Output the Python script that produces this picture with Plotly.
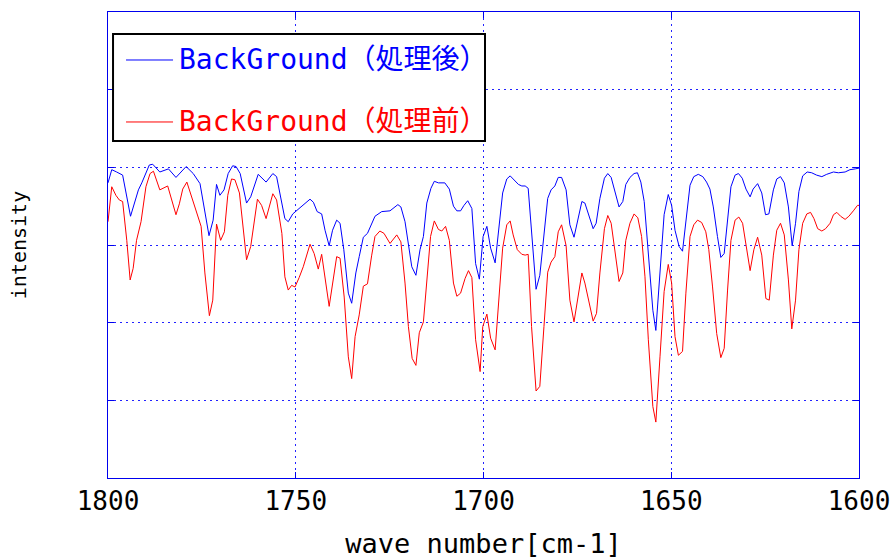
import plotly.graph_objects as go

# ---- data ----
wn_after = [1800.0, 1799.0, 1797.7, 1796.1, 1794.0, 1791.9, 1791.0, 1789.0, 1788.1, 1786.2,
            1783.9, 1781.9, 1779.2, 1777.3, 1775.5, 1773.1, 1772.0, 1771.1, 1770.2, 1769.1,
            1768.0, 1766.8, 1765.9, 1764.8, 1763.1, 1762.0, 1760.0, 1757.9, 1756.1, 1755.1,
            1752.9, 1752.0, 1750.8, 1749.1, 1748.0, 1746.2, 1745.3, 1744.3, 1743.1, 1742.2,
            1741.1, 1740.2, 1739.1, 1738.2, 1737.2, 1736.0, 1735.1, 1734.0, 1733.1, 1732.0,
            1730.9, 1728.9, 1727.1, 1724.9, 1722.8, 1722.0, 1720.9, 1720.0, 1719.1, 1718.0,
            1716.9, 1716.0, 1715.1, 1714.0, 1713.1, 1712.0, 1710.3, 1709.1, 1708.0, 1707.1,
            1706.1, 1705.2, 1704.2, 1703.1, 1702.1, 1701.1, 1700.1, 1699.1, 1698.1, 1696.9,
            1696.1, 1694.9, 1693.8, 1692.9, 1692.1, 1690.7, 1689.8, 1688.9, 1688.1, 1687.2,
            1686.0, 1685.0, 1683.9, 1682.9, 1682.0, 1681.0, 1680.1, 1679.2, 1678.0, 1677.0,
            1675.9, 1674.9, 1673.8, 1673.0, 1671.8, 1670.8, 1670.0, 1669.0, 1667.8, 1666.9,
            1666.0, 1665.0, 1663.9, 1662.9, 1662.1, 1661.0, 1659.9, 1659.0, 1658.1, 1657.2,
            1656.1, 1654.9, 1654.1, 1653.0, 1651.9, 1650.8, 1649.9, 1649.0, 1647.9, 1647.0,
            1646.1, 1645.0, 1644.0, 1642.8, 1641.6, 1640.6, 1639.7, 1638.8, 1637.7, 1636.8,
            1635.9, 1635.0, 1634.1, 1633.0, 1632.1, 1631.1, 1630.1, 1629.0, 1628.2, 1627.0,
            1625.9, 1624.9, 1624.0, 1622.8, 1621.9, 1620.9, 1619.9, 1618.8, 1617.8, 1616.9,
            1616.0, 1615.0, 1613.8, 1612.6, 1611.3, 1609.9, 1608.6, 1606.8, 1605.5, 1603.7,
            1602.4, 1601.0, 1600.0]
int_after = [3.80, 3.97, 3.94, 3.90, 3.37, 3.71, 3.80, 4.03, 4.04, 3.94,
             3.98, 3.87, 4.01, 3.92, 3.79, 3.12, 3.32, 3.78, 3.64, 3.71,
             3.92, 4.02, 4.01, 3.92, 3.54, 3.62, 3.91, 3.81, 3.92, 3.88,
             3.34, 3.30, 3.40, 3.47, 3.51, 3.59, 3.55, 3.43, 3.40, 3.19,
             2.99, 3.19, 3.32, 3.28, 2.94, 2.38, 2.25, 2.64, 2.85, 3.10,
             3.15, 3.37, 3.43, 3.44, 3.52, 3.49, 3.30, 3.02, 2.72, 2.61,
             2.94, 3.11, 3.54, 3.73, 3.82, 3.80, 3.80, 3.72, 3.50, 3.44,
             3.44, 3.51, 3.57, 3.47, 2.76, 2.56, 3.11, 3.24, 2.96, 2.77,
             3.13, 3.67, 3.85, 3.89, 3.85, 3.78, 3.76, 3.76, 3.73, 3.21,
             2.43, 2.61, 3.11, 3.60, 3.71, 3.76, 3.87, 3.87, 3.71, 3.26,
             3.10, 3.32, 3.56, 3.54, 3.36, 3.21, 3.28, 3.60, 3.86, 3.92,
             3.87, 3.69, 3.49, 3.56, 3.78, 3.87, 3.92, 3.93, 3.81, 3.56,
             2.94, 2.16, 1.90, 2.64, 3.39, 3.65, 3.51, 3.19, 2.98, 2.92,
             3.32, 3.77, 3.88, 3.91, 3.88, 3.81, 3.72, 3.49, 3.11, 2.84,
             2.89, 3.36, 3.75, 3.90, 3.92, 3.86, 3.72, 3.62, 3.72, 3.79,
             3.67, 3.39, 3.40, 3.71, 3.85, 3.88, 3.80, 3.49, 2.99, 3.28,
             3.69, 3.89, 3.94, 3.93, 3.90, 3.88, 3.91, 3.94, 3.93, 3.94,
             3.97, 3.98, 3.99]

wn_before = [1800.0, 1799.0, 1797.9, 1797.0, 1796.1, 1795.0, 1794.1, 1793.3, 1792.4, 1791.2,
             1789.9, 1788.8, 1787.9, 1786.2, 1784.1, 1781.9, 1781.0, 1780.1, 1779.0, 1777.7,
             1776.4, 1775.2, 1774.2, 1773.0, 1772.1, 1771.1, 1770.0, 1769.0, 1768.1, 1767.1,
             1766.2, 1765.0, 1763.1, 1762.0, 1760.2, 1759.1, 1757.9, 1756.1, 1755.1, 1753.7,
             1752.9, 1752.0, 1751.1, 1750.2, 1749.1, 1748.0, 1746.2, 1745.1, 1744.0, 1743.1,
             1741.1, 1740.0, 1739.1, 1738.2, 1737.1, 1736.0, 1735.1, 1734.2, 1733.1, 1732.0,
             1730.9, 1729.8, 1728.9, 1727.6, 1726.5, 1724.9, 1723.1, 1722.0, 1720.9, 1720.0,
             1719.0, 1718.0, 1717.1, 1716.0, 1715.1, 1714.1, 1713.1, 1712.0, 1711.1, 1710.1,
             1709.1, 1708.0, 1707.1, 1706.1, 1704.9, 1704.0, 1703.1, 1702.1, 1700.9, 1700.2,
             1699.1, 1698.1, 1696.9, 1696.1, 1694.9, 1693.8, 1692.9, 1692.1, 1691.0, 1689.8,
             1688.9, 1688.1, 1687.2, 1686.0, 1685.0, 1683.9, 1682.9, 1682.0, 1681.0, 1680.1,
             1679.2, 1678.0, 1677.0, 1675.9, 1674.9, 1673.8, 1673.0, 1671.8, 1670.8, 1669.9,
             1669.0, 1667.8, 1666.9, 1666.0, 1665.0, 1663.9, 1662.9, 1662.1, 1661.0, 1659.9,
             1658.9, 1657.9, 1657.0, 1656.1, 1654.9, 1654.1, 1653.0, 1651.9, 1650.8, 1649.9,
             1649.0, 1648.1, 1647.0, 1646.1, 1645.0, 1644.0, 1643.0, 1641.9, 1640.8, 1640.0,
             1639.0, 1637.9, 1636.8, 1635.9, 1635.0, 1634.1, 1633.0, 1632.0, 1631.0, 1629.9,
             1629.0, 1628.0, 1627.0, 1625.9, 1624.8, 1623.9, 1622.8, 1621.9, 1620.9, 1619.9,
             1618.8, 1617.9, 1616.9, 1616.0, 1615.0, 1613.9, 1612.9, 1612.0, 1611.0, 1609.9,
             1608.9, 1607.7, 1606.8, 1605.9, 1604.9, 1603.7, 1602.7, 1601.5, 1600.4, 1600.0]
int_before = [3.30, 3.75, 3.64, 3.58, 3.56, 3.06, 2.55, 2.70, 3.06, 3.30,
              3.75, 3.92, 3.95, 3.71, 3.76, 3.39, 3.53, 3.72, 3.81, 3.62,
              3.41, 3.24, 2.64, 2.09, 2.29, 3.27, 3.06, 3.17, 3.64, 3.85,
              3.84, 3.67, 2.81, 2.98, 3.59, 3.51, 3.34, 3.66, 3.58, 3.15,
              2.59, 2.42, 2.48, 2.46, 2.58, 2.72, 3.01, 2.89, 2.69, 2.88,
              2.21, 2.57, 2.85, 2.83, 2.33, 1.56, 1.28, 1.82, 2.10, 2.47,
              2.50, 2.86, 3.11, 3.18, 3.15, 3.02, 3.13, 3.04, 2.51, 1.95,
              1.54, 1.45, 1.87, 2.01, 2.55, 3.11, 3.31, 3.20, 3.18, 3.24,
              3.06, 2.51, 2.34, 2.38, 2.57, 2.67, 2.58, 1.78, 1.37, 1.95,
              2.11, 1.80, 1.65, 2.21, 2.96, 3.26, 3.31, 3.13, 2.94, 2.88,
              2.87, 2.88, 1.95, 1.12, 1.18, 1.95, 2.65, 2.78, 2.85, 3.17,
              3.26, 2.99, 2.29, 2.01, 2.33, 2.64, 2.51, 2.25, 2.02, 2.12,
              2.64, 3.21, 3.38, 3.28, 2.89, 2.53, 2.64, 3.06, 3.28, 3.40,
              3.35, 3.11, 2.59, 1.78, 0.92, 0.72, 1.56, 2.40, 2.75, 2.51,
              1.82, 1.58, 1.63, 2.38, 3.11, 3.26, 3.32, 3.29, 3.17, 2.94,
              2.46, 1.86, 1.55, 1.67, 2.42, 3.06, 3.32, 3.36, 3.28, 2.94,
              2.67, 2.94, 3.10, 2.87, 2.31, 2.29, 2.87, 3.19, 3.28, 3.13,
              2.55, 1.92, 2.29, 2.94, 3.28, 3.40, 3.42, 3.34, 3.21, 3.18,
              3.21, 3.28, 3.39, 3.42, 3.37, 3.33, 3.37, 3.44, 3.51, 3.51]

x_ticks = [1800, 1750, 1700, 1650, 1600]
series_names = ["BackGround（処理後）", "BackGround（処理前）"]
series_colors = ["#0000ff", "#ff0000"]

MONO = "DejaVu Sans Mono, Noto Sans CJK JP, sans-serif"
AXIS_BLUE = "#0000ee"
GRID_BLUE = "#2222ff"

fig = go.Figure()
fig.add_trace(go.Scatter(x=wn_after, y=int_after, mode="lines", name=series_names[0],
                         line=dict(color=series_colors[0], width=1)))
fig.add_trace(go.Scatter(x=wn_before, y=int_before, mode="lines", name=series_names[1],
                         line=dict(color=series_colors[1], width=1)))

# manual legend (box, sample lines, labels) in paper coordinates
fig.add_shape(type="rect", xref="paper", yref="paper", x0=0.0067, x1=0.502, y0=0.7232, y1=0.9528,
              line=dict(color="black", width=2), fillcolor="white", layer="above")
legend_rows = [0.897, 0.764]
for name, color, yy in zip(series_names, series_colors, legend_rows):
    fig.add_shape(type="line", xref="paper", yref="paper", x0=0.024, x1=0.0866, y0=yy, y1=yy,
                  line=dict(color=color, width=1), layer="above")
    fig.add_annotation(xref="paper", yref="paper", x=0.0925, y=yy, xanchor="left", yanchor="middle",
                       text=name, showarrow=False, font=dict(family=MONO, size=28, color=color))

fig.update_layout(
    width=892, height=559,
    margin=dict(l=108, r=33, t=12, b=81, autoexpand=False),
    paper_bgcolor="white", plot_bgcolor="white",
    showlegend=False,
    font=dict(family=MONO, color="black"),
)
fig.update_xaxes(
    automargin=False,
    range=[1800, 1600], tickvals=x_ticks, ticktext=[str(t) for t in x_ticks],
    showline=True, linecolor=AXIS_BLUE, linewidth=1, mirror="ticks",
    ticks="inside", ticklen=6, tickcolor=AXIS_BLUE,
    showgrid=True, gridcolor=GRID_BLUE, griddash="2px,4px", gridwidth=1,
    zeroline=False,
    tickfont=dict(family=MONO, size=26, color="black"),
    title=dict(text="wave number[cm-1]", font=dict(family=MONO, size=27, color="black"), standoff=18),
)
fig.update_yaxes(
    automargin=False,
    range=[0, 6], dtick=1, showticklabels=False,
    showline=True, linecolor=AXIS_BLUE, linewidth=1, mirror="ticks",
    ticks="inside", ticklen=6, tickcolor=AXIS_BLUE,
    showgrid=True, gridcolor=GRID_BLUE, griddash="2px,4px", gridwidth=1,
    zeroline=False,
    title=dict(text="intensity", font=dict(family=MONO, size=20, color="black"), standoff=75),
)

fig.write_html("out.html")
